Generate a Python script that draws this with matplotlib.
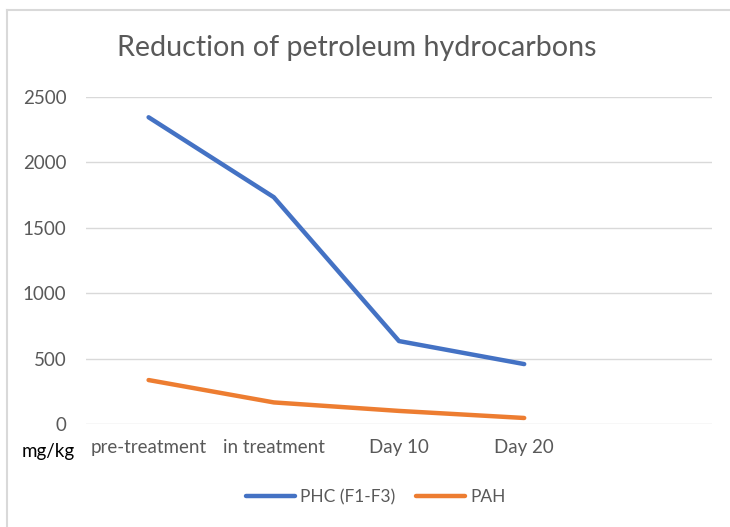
import matplotlib.pyplot as plt
from matplotlib.lines import Line2D

categories = ['pre-treatment', 'in treatment', 'Day 10', 'Day 20', '']
phc = [2345, 1734, 634, 458]
pah = [336, 165, 100, 46]
yticks = [0, 500, 1000, 1500, 2000, 2500]

plt.rcParams['font.family'] = ['Lato', 'DejaVu Sans']

W, H = 730, 527
fig = plt.figure(figsize=(W / 100, H / 100), dpi=100)
ax = fig.add_axes([86 / W, (H - 424) / H, (712 - 86) / W, (424 - 97) / H])

x = range(len(phc))
ax.plot(x, phc, color='#4472C4', lw=3.2, solid_capstyle='round', label='PHC (F1-F3)')
ax.plot(x, pah, color='#ED7D31', lw=3.2, solid_capstyle='round', label='PAH')

ax.set_xlim(-0.5, len(categories) - 0.5)
ax.set_ylim(0, 2500)
ax.set_yticks(yticks)
ax.set_xticks(range(len(categories)))
ax.set_xticklabels(categories)
ax.grid(axis='y', color='#d9d9d9', lw=1)
ax.set_axisbelow(True)
for s in ax.spines.values():
    s.set_visible(False)
ax.tick_params(length=0, colors='#595959', labelsize=13.5)
ax.tick_params(axis='y', pad=14)
ax.tick_params(axis='x', pad=11)

fig.text(117 / W, 1 - 48 / H, 'Reduction of petroleum hydrocarbons', fontsize=20.6,
         color='#595959', va='center', ha='left')
fig.text(48 / W, 1 - 451 / H, 'mg/kg', fontsize=13.5, color='black', ha='center', va='center')

leg = fig.legend(loc='center', bbox_to_anchor=(376 / W, 1 - 497 / H), ncol=2, frameon=False,
                 fontsize=12.5, handlelength=2.8, columnspacing=1.2, handletextpad=0.3)
for t in leg.get_texts():
    t.set_color('#595959')

# frame of the screenshot (left and top edges)
fig.add_artist(Line2D([7 / W, 7 / W], [0, 1 - 10 / H], color='#d9d9d9', lw=1.5))
fig.add_artist(Line2D([7 / W, 1], [1 - 10 / H, 1 - 10 / H], color='#d9d9d9', lw=1.5))

fig.savefig('out.png', dpi=100)
